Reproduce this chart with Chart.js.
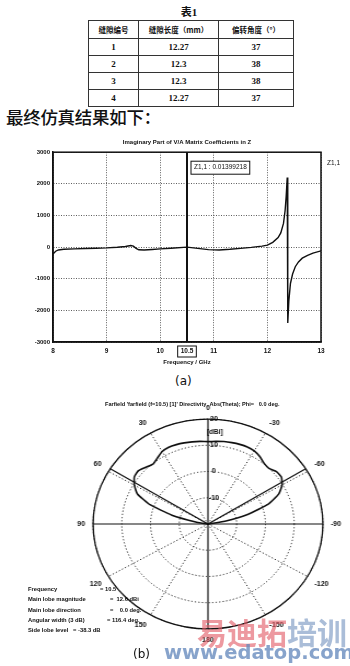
<!DOCTYPE html>
<html>
<head>
<meta charset="utf-8">
<script src="https://cdn.jsdelivr.net/npm/chart.js@4.4.1/dist/chart.umd.min.js"></script>
<style>
    html, body { margin: 0; padding: 0; background: #fff; }
    body { width: 350px; height: 666px; position: relative; overflow: hidden; color: #111; font-family: "Liberation Sans", Arial, sans-serif; }
    .abs { position: absolute; }
    #caption { left: 0; width: 378px; top: 3px; text-align: center; font: bold 11px "Liberation Serif", "Noto Sans CJK SC", serif; }
    #tbl { position: absolute; left: 88px; top: 20px; width: 205px; border-collapse: collapse; border: 1.5px solid #222; table-layout: fixed; }
    #tbl th, #tbl td { border: 1px solid #333; padding: 0; text-align: center; }
    #tbl th { height: 17px; font: bold 7.5px "Noto Sans CJK SC", sans-serif; }
    #tbl td { height: 16px; font: bold 9px "Liberation Serif", serif; }
    #heading { left: 6px; top: 104px; font: 500 17.5px "Noto Sans CJK SC", sans-serif; letter-spacing: -0.3px; }
    #zWrap { left: 0; top: 132px; }
    #labelA { left: 175px; top: 374px; font: 12px "DejaVu Sans", sans-serif; }
    #polarTitle { left: 105px; top: 401px; font: bold 5.6px "Liberation Sans", Arial, sans-serif; white-space: pre; }
    #polarWrap { left: 0; top: 393px; transform: scaleX(1.095); transform-origin: 208.3px 50%; }
    .info { position: absolute; left: 28px; font: bold 5.8px "Liberation Sans", Arial, sans-serif; white-space: pre; }
    .info span { display: inline-block; }
    #labelB { left: 133px; top: 647px; font: 12px "DejaVu Sans", sans-serif; }
    #wm1 { left: 197px; top: 616px; font: bold 30px/30px "Noto Sans CJK SC", sans-serif; }
    #wm2 { left: 164px; top: 641px; font: bold 19.5px "DejaVu Sans", sans-serif; color: rgba(105, 140, 190, 0.8); }
</style>
</head>
<body>
<div id="caption" class="abs">表1</div>
<table id="tbl">
    <colgroup><col style="width:50px"><col style="width:80px"><col style="width:75px"></colgroup>
    <thead><tr id="tblHead"></tr></thead>
    <tbody id="tblBody"></tbody>
</table>
<div id="heading" class="abs">最终仿真结果如下：</div>

<div id="zWrap" class="abs"><canvas id="zChart" width="350" height="240"></canvas></div>
<div id="labelA" class="abs">(a)</div>

<div id="polarWrap" class="abs"><canvas id="polarChart" width="350" height="255"></canvas></div>
<div id="polarTitle" class="abs">Farfield 'farfield (f=10.5) [1]' Directivity_Abs(Theta); Phi=   0.0 deg.</div>
<div id="infoBox"></div>
<div id="labelB" class="abs">(b)</div>

<div id="wm1" class="abs"><span style="color:rgba(226,90,102,0.62)">易迪拓</span><span style="color:rgba(118,148,192,0.62)">培训</span></div>
<div id="wm2" class="abs">www.edatop.com</div>

<script>
// table 1
const tableHeader = ['缝隙编号', '缝隙长度（mm）', '偏转角度（°）'];
const slotIds = [1, 2, 3, 4];
const slotLengths = ['12.27', '12.3', '12.3', '12.27'];
const slotAngles = [37, 38, 38, 37];

// (a) imaginary part of Z1,1
const seriesName = 'Z1,1';
const chartTitle = 'Imaginary Part of V/A Matrix Coefficients in Z';
const freqGHz = [8.0, 8.05, 8.1, 8.2, 8.4, 8.6, 8.8, 9.0, 9.2, 9.35, 9.45, 9.5, 9.55, 9.6, 9.7, 9.85,
    10.0, 10.2, 10.5, 10.7, 10.9, 11.1, 11.3, 11.5, 11.7, 11.9, 12.0, 12.1, 12.2, 12.25, 12.3, 12.33,
    12.35, 12.37, 12.38, 12.4, 12.43, 12.47, 12.52, 12.58, 12.65, 12.75, 12.85, 13.0];
const imagZ = [-220, -130, -90, -70, -55, -45, -35, -25, -5, 20, 50, 30, -40, -85, -90, -75,
    -55, -35, 0.014, -40, -80, -90, -70, -40, -10, 30, 60, 150, 300, 450, 750, 1150,
    1600, 2200, -2400, -1700, -1150, -850, -620, -470, -350, -260, -190, -120];
const freqTicks = [8, 9, 10, 11, 12, 13];
const zTicks = [-3000, -2000, -1000, 0, 1000, 2000, 3000];
const markerFreq = 10.5;
const markerValue = '0.01399218';

// (b) farfield directivity, radar order (clockwise from top, theta counter-clockwise)
const thetaLabels = [0, -5, -10, -15, -20, -25, -30, -35, -40, -45, -50, -55, -60, -65, -70, -75, -80, -85,
    -90, -95, -100, -105, -110, -115, -120, -125, -130, -135, -140, -145, -150, -155, -160, -165, -170, -175,
    180, 175, 170, 165, 160, 155, 150, 145, 140, 135, 130, 125, 120, 115, 110, 105, 100, 95,
    90, 85, 80, 75, 70, 65, 60, 55, 50, 45, 40, 35, 30, 25, 20, 15, 10, 5];
const directivity = [11.4, 11.6, 11.9, 12.1, 12.3, 12.4, 12.2, 11.4, 10.3, 10.0, 11.1, 11.2, 9.8, 7.2, 2.5, -5.5, -14, -19.5,
    -20, -20, -20, -20, -20, -20, -20, -20, -20, -20, -20, -20, -20, -20, -20, -20, -20, -20,
    -20, -20, -20, -20, -20, -20, -20, -20, -20, -20, -20, -20, -20, -20, -20, -20, -20, -20,
    -20, -20, -16, -7, 1.5, 7.1, 9.6, 11.3, 11.6, 10.6, 9.8, 10.7, 11.9, 12.3, 12.2, 12.0, 11.8, 11.6];
const dbTicks = [-20, -10, 0, 10, 20];
const mainLobeDir = 0;
const beamWidth = 116.4;
const infoLabels = ['Frequency', 'Main lobe magnitude', 'Main lobe direction', 'Angular width (3 dB)', 'Side lobe level'];
const infoValues = ['= 10.5', '=  12.6 dBi', '=    0.0 deg.', '= 116.4 deg.', '= -38.3 dB'];

const ink = '#111';
const family = '"Liberation Sans", Arial, sans-serif';

// build table
document.getElementById('tblHead').innerHTML = tableHeader.map(h => `<th>${h}</th>`).join('');
document.getElementById('tblBody').innerHTML = slotIds.map((id, i) =>
    `<tr><td>${id}</td><td>${slotLengths[i]}</td><td>${slotAngles[i]}</td></tr>`).join('');

// info text under the polar plot
const infoBox = document.getElementById('infoBox');
const infoTops = [586, 596, 607, 617, 627];
const infoGaps = [72, 82, 82, 79, 45];
infoLabels.forEach((l, i) => {
    const d = document.createElement('div');
    d.className = 'info';
    d.style.top = infoTops[i] + 'px';
    d.innerHTML = `<span style="width:${infoGaps[i]}px">${l}</span>${infoValues[i]}`;
    infoBox.appendChild(d);
});

// frame, marker line and boxes for chart (a)
const markerPlugin = {
    id: 'marker',
    afterDatasetsDraw(chart) {
        const { ctx, chartArea: a, scales: { x } } = chart;
        const px = x.getPixelForValue(markerFreq);
        ctx.save();
        ctx.strokeStyle = ink;
        ctx.lineWidth = 1.5;
        ctx.strokeRect(a.left, a.top, a.right - a.left, a.bottom - a.top);

        ctx.lineWidth = 2;
        ctx.beginPath();
        ctx.moveTo(px, a.top);
        ctx.lineTo(px, a.bottom);
        ctx.stroke();

        ctx.font = `6.5px ${family}`;
        ctx.textBaseline = 'middle';
        const txt = `${seriesName} : ${markerValue}`;
        const w = ctx.measureText(txt).width + 6;
        ctx.fillStyle = '#fff';
        ctx.fillRect(px + 4, a.top + 9, w, 13);
        ctx.lineWidth = 1;
        ctx.strokeRect(px + 4, a.top + 9, w, 13);
        ctx.fillStyle = ink;
        ctx.fillText(txt, px + 7, a.top + 15.5);

        ctx.font = `bold 6.5px ${family}`;
        const xt = String(markerFreq);
        const xw = ctx.measureText(xt).width + 6;
        ctx.fillStyle = '#fff';
        ctx.fillRect(px - xw / 2, a.bottom + 4, xw, 11);
        ctx.strokeRect(px - xw / 2, a.bottom + 4, xw, 11);
        ctx.fillStyle = ink;
        ctx.textAlign = 'center';
        ctx.fillText(xt, px, a.bottom + 9.5);

        ctx.textAlign = 'left';
        ctx.font = `6.5px ${family}`;
        ctx.fillText(seriesName, a.right + 6, a.top + 11);
        ctx.restore();
    }
};

new Chart(document.getElementById('zChart'), {
    type: 'line',
    data: {
        datasets: [{
            label: seriesName,
            data: freqGHz.map((f, i) => ({ x: f, y: imagZ[i] })),
            borderColor: ink,
            borderWidth: 1.4,
            pointRadius: 0,
            tension: 0,
            fill: false
        }]
    },
    options: {
        responsive: false,
        animation: false,
        layout: { padding: { left: 0, right: 29, top: 0, bottom: 0 } },
        plugins: {
            legend: { display: false },
            tooltip: { enabled: false },
            title: {
                display: true,
                fullSize: false,
                text: chartTitle,
                color: ink,
                font: { family, size: 6, weight: 'bold' },
                padding: { top: 7, bottom: 6 }
            }
        },
        scales: {
            x: {
                type: 'linear',
                min: freqTicks[0],
                max: freqTicks[freqTicks.length - 1],
                afterBuildTicks: s => { s.ticks = freqTicks.map(v => ({ value: v })); },
                ticks: { color: ink, font: { family, size: 6.5, weight: 'bold' }, padding: 5, maxRotation: 0, callback: v => String(v) },
                grid: { color: '#333', lineWidth: 0.8, drawTicks: false },
                border: { color: ink, width: 1.5, dash: [1, 1.5] },
                title: { display: true, text: 'Frequency / GHz', color: ink, font: { family, size: 6, weight: 'bold' }, padding: { top: 0, bottom: 6 } },
                afterFit: s => { s.height = 30; }
            },
            y: {
                min: zTicks[0],
                max: zTicks[zTicks.length - 1],
                afterBuildTicks: s => { s.ticks = zTicks.map(v => ({ value: v })); },
                ticks: { color: ink, font: { family, size: 6, weight: 'bold' }, padding: 3, callback: v => String(v) },
                grid: { color: '#333', lineWidth: 0.8, drawTicks: false },
                border: { color: ink, width: 1.5, dash: [1, 1.5] },
                afterFit: s => { s.width = 53; }
            }
        }
    },
    plugins: [markerPlugin]
});

// outer solid circle and 3 dB beam edges for chart (b)
const beamPlugin = {
    id: 'beam',
    beforeDatasetsDraw(chart) {
        const { ctx } = chart;
        const r = chart.scales.r;
        const n = thetaLabels.length;
        const step = 360 / n;
        ctx.save();
        ctx.strokeStyle = ink;
        ctx.lineWidth = 1.3;
        ctx.beginPath();
        ctx.arc(r.xCenter, r.yCenter, r.drawingArea, 0, Math.PI * 2);
        ctx.stroke();
        ctx.lineWidth = 1.2;
        [mainLobeDir + beamWidth / 2, mainLobeDir - beamWidth / 2].forEach(t => {
            const idx = t >= 0 ? n - t / step : -t / step;
            const p = r.getPointPosition(idx, r.drawingArea);
            ctx.beginPath();
            ctx.moveTo(r.xCenter, r.yCenter);
            ctx.lineTo(p.x, p.y);
            ctx.stroke();
        });
        ctx.restore();
    }
};

new Chart(document.getElementById('polarChart'), {
    type: 'radar',
    data: {
        labels: thetaLabels,
        datasets: [{
            label: 'Directivity',
            data: directivity,
            borderColor: ink,
            borderWidth: 1.6,
            pointRadius: 0,
            fill: false,
            tension: 0.15
        }]
    },
    options: {
        responsive: false,
        animation: false,
        layout: { padding: { left: 66.6, right: 0, top: 12, bottom: 3 } },
        plugins: { legend: { display: false }, tooltip: { enabled: false } },
        scales: {
            r: {
                min: dbTicks[0],
                max: dbTicks[dbTicks.length - 1],
                afterBuildTicks: s => { s.ticks = dbTicks.map(v => ({ value: v })); },
                ticks: {
                    color: ink,
                    showLabelBackdrop: false,
                    font: { family, size: 6.5, weight: 'bold', lineHeight: 2 },
                    callback: v => v === dbTicks[0] ? '' : (v === dbTicks[dbTicks.length - 1] ? ['      ' + v, '       [dBi]'] : '      ' + v)
                },
                grid: { circular: true, color: ink, lineWidth: 0.9 },
                border: { dash: [1.2, 2] },
                angleLines: {
                    color: c => c.index % 6 === 0 ? ink : 'rgba(0,0,0,0)',
                    lineWidth: c => c.index % 6 === 0 ? (c.index % 18 === 0 ? 1.2 : 0.9) : 0,
                    borderDash: c => c.index % 18 === 0 ? [] : [1.2, 2]
                },
                pointLabels: {
                    color: ink,
                    padding: 2,
                    font: { family, size: 6.5, weight: 'bold' },
                    callback: (l, i) => i % 6 === 0 ? String(l) : ''
                }
            }
        }
    },
    plugins: [beamPlugin]
});
</script>
</body>
</html>
